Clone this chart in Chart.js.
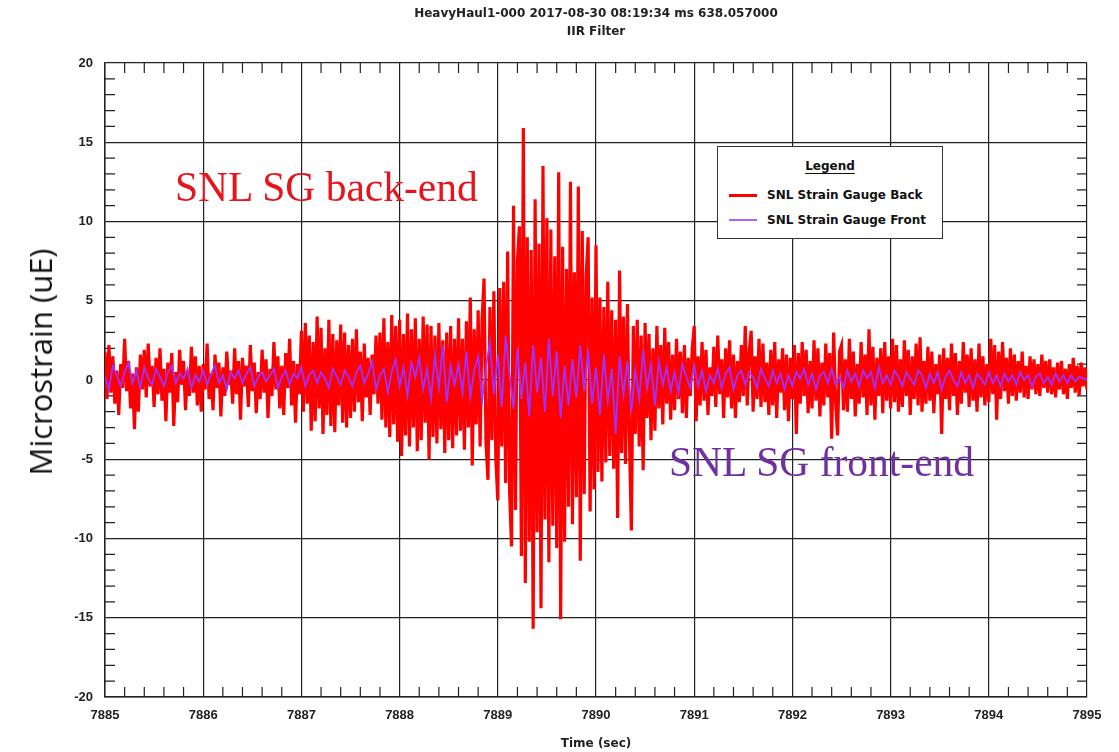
<!DOCTYPE html>
<html>
<head>
<meta charset="utf-8">
<script src="https://cdn.jsdelivr.net/npm/chart.js@4.4.0/dist/chart.umd.min.js"></script>
<style>
  html, body { margin: 0; padding: 0; background: #fff; }
  #wrap { position: relative; width: 1119px; height: 752px; overflow: hidden; }
  #chart { position: absolute; left: 0; top: 0; }
  .note { position: absolute; font-family: "Liberation Serif", "Times New Roman", serif; font-size: 41.5px; line-height: 41.5px; white-space: nowrap; }
  #ytitle { position: absolute; left: 40px; top: 362px; transform: translate(-50%, -50%) rotate(-90deg);
            font-family: "Open Sans", Lato, sans-serif; font-size: 31px; line-height: 36px; color: #111; white-space: nowrap; }
  #legend { position: absolute; left: 717px; top: 146px; width: 224px; height: 91px; border: 1.5px solid #333; background: #fff;
            font-family: "DejaVu Sans", Verdana, sans-serif; font-weight: bold; font-size: 12px; color: #111; }
  #legend .hdr { position: absolute; left: 0; width: 100%; top: 12px; text-align: center; }
  #legend .hdr span { text-decoration: underline; text-underline-offset: 3px; }
  #legend .item { position: absolute; left: 11px; height: 16px; line-height: 16px; white-space: nowrap; }
  #legend .sw { position: absolute; left: 0; width: 28px; }
  #legend .lbl { position: absolute; left: 38px; top: 0; }
</style>
</head>
<body>
<div id="wrap">
  <canvas id="chart" width="1119" height="752"></canvas>
  <div id="ytitle">Microstrain (uE)</div>
  <div class="note" id="noteBack" style="left:175px; top:167px; color:#e8141c;">SNL SG back-end</div>
  <div class="note" id="noteFront" style="left:669px; top:442px; color:#7030a0;">SNL SG front-end</div>
  <div id="legend">
    <div class="hdr"><span>Legend</span></div>
    <div class="item" style="top:40px;"><div class="sw" style="top:7px; height:3px; background:#ff0000;"></div><div class="lbl">SNL Strain Gauge Back</div></div>
    <div class="item" style="top:65px;"><div class="sw" style="top:7px; height:2px; background:#b060ff;"></div><div class="lbl">SNL Strain Gauge Front</div></div>
  </div>
</div>
<script>
// ---------------- data ----------------
const chartTitle = ['HeavyHaul1-000 2017-08-30 08:19:34 ms 638.057000', 'IIR Filter'];
const xAxisTitle = 'Time (sec)';
const yAxisTitle = 'Microstrain (uE)';
const seriesNames = ['SNL Strain Gauge Back', 'SNL Strain Gauge Front'];

const timeMin = 7885;
const timeMax = 7895;
const strainMin = -20;
const strainMax = 20;
const timeMajorStep = 1;
const timeMinorStep = 0.2;
const strainMajorStep = 5;
const strainMinorStep = 1;

// back gauge, sampled every 0.02 s from 7885.00 (one row = 0.5 s)
const backStart = 7885;
const backStep = 0.02;
const backValues = [
  1.8,-1.2,2.2,-0.8,1.5,-1.5,0.6,-2.2,1.0,-0.5,2.6,-0.7,1.2,-1.8,0.4,-3.1,0.8,-2.0,1.6,-0.6,1.9,-1.1,2.3,-0.4,0.9,
  -1.7,1.4,-0.9,2.0,-1.3,0.7,-2.6,1.1,-0.8,1.7,-2.9,0.5,-1.4,1.9,-0.3,1.2,-1.9,0.6,-1.0,2.1,-0.8,1.5,-1.6,0.9,-2.0,
  1.0,-0.6,2.3,-1.2,0.4,-1.9,1.6,-0.5,1.1,-2.3,0.8,-1.0,1.8,-0.3,0.6,-1.5,2.0,-0.9,1.2,-2.5,1.4,-0.4,0.9,-1.7,2.2,
  -0.7,1.1,-2.1,0.5,-1.2,1.9,-0.8,1.3,-2.4,0.7,-1.0,2.4,-0.6,1.5,-1.8,0.9,-2.2,1.7,-0.5,2.6,-1.6,1.2,-2.7,1.0,-0.9,
  3.1,-2.0,3.6,-1.5,2.8,-3.2,2.4,-2.6,4.0,-1.8,3.3,-3.4,2.0,-2.2,3.8,-2.9,2.9,-3.3,2.5,-1.6,3.5,-2.7,3.0,-3.0,2.2,
  -2.4,2.6,-2.0,3.2,-1.4,1.8,-2.6,2.3,-1.1,1.4,-2.2,1.6,-0.9,2.8,-1.5,3.0,-2.5,3.9,-3.0,2.4,-3.6,4.1,-2.8,3.4,-3.9,
  3.8,-4.8,2.9,-3.5,4.2,-4.2,3.2,-3.0,3.9,-4.5,2.6,-3.8,4.0,-2.7,3.5,-5.0,3.4,-3.6,2.8,-4.0,3.6,-3.1,2.5,-4.6,3.0,
  -3.8,3.4,-4.3,2.6,-3.5,3.9,-3.2,2.6,-4.4,3.7,-3.0,5.2,-5.4,3.2,-2.8,4.4,-4.2,3.8,6.4,-4.0,-6.3,4.6,-3.8,5.6,-5.0,
  -7.6,5.8,-4.2,6.2,-6.5,8.1,-7.0,-10.5,11.0,-8.2,7.5,9.7,-11.1,15.9,-12.8,9.0,-10.2,8.2,-15.7,11.4,-9.6,8.6,-14.4,13.5,-8.8,
  10.2,-11.5,9.5,-9.2,7.8,-10.6,13.1,-15.1,8.4,-10.2,7.0,-8.0,12.5,-9.1,6.8,-7.4,12.2,-11.4,9.4,-7.2,6.6,9.0,-8.3,5.2,-6.9,
  8.5,-5.8,5.2,-6.4,4.6,-5.2,6.2,-4.8,4.4,-5.6,3.8,-8.7,6.9,-4.6,4.0,-5.3,4.8,-3.6,-9.5,3.4,-3.4,3.8,-4.2,2.8,-5.7,
  3.6,-2.4,2.9,-3.8,2.0,-3.2,3.4,-1.8,2.2,-2.8,3.3,-1.5,2.4,-2.5,1.6,-1.9,2.6,-1.2,1.8,-2.1,2.2,-2.4,1.4,-1.0,2.0,
  3.4,-2.6,1.5,-1.6,2.4,-1.3,1.9,-2.2,0.8,-1.0,2.1,-1.7,2.8,-0.9,1.3,-2.4,2.0,-1.1,2.5,-1.8,1.6,-2.4,1.2,-1.4,2.2,
  -1.0,3.4,-1.6,1.8,3.1,-2.0,1.5,-1.2,2.6,-1.7,2.3,-1.4,1.1,-2.2,1.9,-1.6,2.4,-2.4,1.3,-0.8,2.0,-1.9,1.6,-2.6,1.4,
  -1.2,2.2,-3.4,1.7,-1.5,2.4,-1.0,1.9,-2.1,1.2,-1.8,2.5,-1.3,2.0,-2.3,1.1,-1.6,2.3,-1.1,1.7,-3.7,3.0,-1.4,-3.5,1.8,
  2.2,-1.9,1.3,-2.0,2.6,-1.2,1.8,-2.3,1.0,-1.5,2.4,-1.1,1.6,-2.2,3.2,-1.6,2.1,-2.5,1.4,-1.0,2.0,-2.1,2.4,-1.3,1.5,
  -1.8,2.6,-1.4,2.2,-2.0,1.3,-1.7,2.5,-1.0,1.9,-2.2,1.5,-1.2,2.3,-1.6,2.7,-2.0,1.2,-1.5,2.1,-1.3,1.8,-2.1,1.0,-0.9,
  1.6,-3.4,2.0,-1.2,1.4,-1.9,2.3,-1.0,1.7,-2.2,1.2,-1.5,2.4,-0.8,1.6,-1.7,2.0,-1.3,1.3,-2.0,2.3,-1.1,1.5,-1.6,1.0,
  -1.4,2.6,-0.9,2.2,-2.5,1.8,-1.2,2.4,-0.7,1.4,-1.5,2.0,-1.0,1.6,-1.3,1.2,-0.8,1.8,-1.1,0.9,-1.2,1.5,-0.6,1.3,-0.9,
  1.0,-1.0,1.6,-0.5,1.2,-0.8,1.3,-0.9,0.8,-1.1,1.1,-0.6,1.2,-0.9,0.7,-1.2,1.0,-0.5,1.4,-0.8,0.9,-1.0,1.1,-0.4,0.8,
  -0.6
];

// front gauge, sampled every 0.04 s from 7885.00 (one row = 1 s)
const frontStart = 7885;
const frontStep = 0.04;
const frontValues = [
  0.2,-0.6,0.9,0.3,-0.4,0.5,1.1,-0.2,0.6,-0.5,0.8,0.1,-0.3,0.7,0.2,-0.4,0.5,0.9,-0.2,0.4,0.1,0.7,-0.5,0.3,-0.1,
  0.6,-0.3,0.4,0.9,-0.2,0.3,-0.6,0.5,0.1,0.6,-0.2,0.4,0.8,-0.4,0.2,0.5,-0.1,0.3,0.7,-0.5,0.2,0.6,-0.3,0.4,0.1,
  0.8,-0.4,0.3,0.6,-0.2,0.5,0.1,-0.5,0.7,0.2,-0.3,0.6,0.2,-0.4,0.5,0.9,-0.2,0.4,1.2,-0.6,0.3,0.7,-0.8,0.5,1.3,
  -0.4,0.8,-1.0,1.1,0.2,1.4,-0.6,0.7,-1.2,1.6,-0.5,2.2,-1.4,0.9,-0.3,1.0,-0.8,1.8,-1.1,0.6,1.5,-1.3,0.8,2.4,-0.9,
  1.6,-1.7,2.8,0.3,-1.8,2.0,-1.2,1.1,-2.3,2.2,-0.8,1.4,-2.0,2.6,-1.0,1.8,-2.4,0.9,-1.6,1.3,-1.1,2.2,-0.7,1.9,-1.5,
  0.8,-2.2,1.6,-1.3,0.7,-3.4,1.5,-0.9,1.2,-2.0,0.6,-1.2,1.9,-0.5,1.0,-1.6,1.2,-0.3,0.8,-0.7,0.5,-0.8,1.0,0.2,-0.5,
  0.9,-0.4,0.6,-0.7,0.3,-0.2,0.7,-0.5,0.4,0.8,-0.6,0.3,0.6,-0.3,0.5,0.2,-0.5,0.7,0.1,-0.4,0.6,-0.2,0.4,-0.6,0.3,
  -0.4,0.5,0.1,0.7,-0.3,0.4,-0.6,0.3,0.5,-0.2,0.7,-0.3,0.2,-0.5,0.6,-0.1,0.4,-0.4,0.6,0.1,0.5,-0.5,0.8,-0.2,0.3,
  -0.3,0.6,0.2,-0.4,0.5,0.1,-0.3,0.6,0.3,-0.5,0.4,-0.2,0.5,-0.6,0.2,0.6,0.0,-0.4,0.5,-0.2,0.3,-0.5,0.4,0.1,-0.3,
  0.5,-0.2,0.3,-0.4,0.4,-0.1,0.3,-0.3,0.5,0.0,0.3,-0.4,0.2,0.4,-0.2,0.2,-0.3,0.4,-0.1,0.3,-0.2,0.3,-0.1,0.2,0.1,
  0.0
];

// ---------------- chart ----------------
function toPoints(start, step, values) {
  return values.map((v, i) => ({ x: +(start + i * step).toFixed(3), y: v }));
}

const ink = '#222';
const boldFont = (size) => ({ family: '"DejaVu Sans", Verdana, sans-serif', size: size, weight: 'bold' });
const tickFont = { family: '"Liberation Sans", Arial, sans-serif', size: 13, weight: 'bold' };

const minorTicks = {
  id: 'minorTicks',
  beforeDatasetsDraw(chart) {
    const { ctx, chartArea: a, scales: { x, y } } = chart;
    const len = 10;
    ctx.save();
    ctx.strokeStyle = ink;
    ctx.lineWidth = 1.2;
    ctx.beginPath();
    const nx = Math.round((timeMax - timeMin) / timeMinorStep);
    const perX = Math.round(timeMajorStep / timeMinorStep);
    for (let i = 1; i < nx; i++) {
      if (i % perX === 0) continue;
      const px = x.getPixelForValue(timeMin + i * timeMinorStep);
      ctx.moveTo(px, a.bottom); ctx.lineTo(px, a.bottom - len);
      ctx.moveTo(px, a.top); ctx.lineTo(px, a.top + len);
    }
    const ny = Math.round((strainMax - strainMin) / strainMinorStep);
    const perY = Math.round(strainMajorStep / strainMinorStep);
    for (let i = 1; i < ny; i++) {
      if (i % perY === 0) continue;
      const py = y.getPixelForValue(strainMin + i * strainMinorStep);
      ctx.moveTo(a.left, py); ctx.lineTo(a.left + len, py);
      ctx.moveTo(a.right, py); ctx.lineTo(a.right - len, py);
    }
    ctx.stroke();
    ctx.restore();
  }
};

new Chart(document.getElementById('chart'), {
  type: 'line',
  data: {
    datasets: [
      {
        label: seriesNames[0],
        data: toPoints(backStart, backStep, backValues),
        borderColor: '#ff0000',
        borderWidth: 3.2,
        pointRadius: 0,
        tension: 0,
        order: 2
      },
      {
        label: seriesNames[1],
        data: toPoints(frontStart, frontStep, frontValues),
        borderColor: '#a030ff',
        borderWidth: 1.8,
        pointRadius: 0,
        tension: 0,
        order: 1
      }
    ]
  },
  options: {
    responsive: false,
    animation: false,
    events: [],
    layout: { padding: { left: 0, right: 32, top: 0, bottom: 0 } },
    plugins: {
      legend: { display: false },
      tooltip: { enabled: false },
      title: {
        display: true,
        fullSize: false,
        text: chartTitle,
        color: ink,
        font: Object.assign(boldFont(12), { lineHeight: '18px' }),
        padding: { top: 5, bottom: 22 }
      }
    },
    scales: {
      x: {
        type: 'linear',
        min: timeMin,
        max: timeMax,
        afterFit(s) { s.height = 55; },
        ticks: {
          stepSize: timeMajorStep,
          padding: 11,
          color: ink,
          font: tickFont,
          maxRotation: 0,
          callback: v => String(v)
        },
        grid: { color: ink, lineWidth: 1.2, drawTicks: false },
        border: { color: ink, width: 1.5 },
        title: {
          display: true,
          text: xAxisTitle,
          color: ink,
          font: Object.assign(boldFont(12), { lineHeight: 1.2 }),
          padding: { top: 0, bottom: 1 }
        }
      },
      y: {
        min: strainMin,
        max: strainMax,
        afterFit(s) { s.width = 105; },
        ticks: {
          stepSize: strainMajorStep,
          padding: 12,
          color: ink,
          font: tickFont,
          callback: v => String(v)
        },
        grid: { color: ink, lineWidth: 1.2, drawTicks: false },
        border: { color: ink, width: 1.5 },
        title: { display: false, text: yAxisTitle }
      }
    }
  },
  plugins: [minorTicks]
});
</script>
</body>
</html>
